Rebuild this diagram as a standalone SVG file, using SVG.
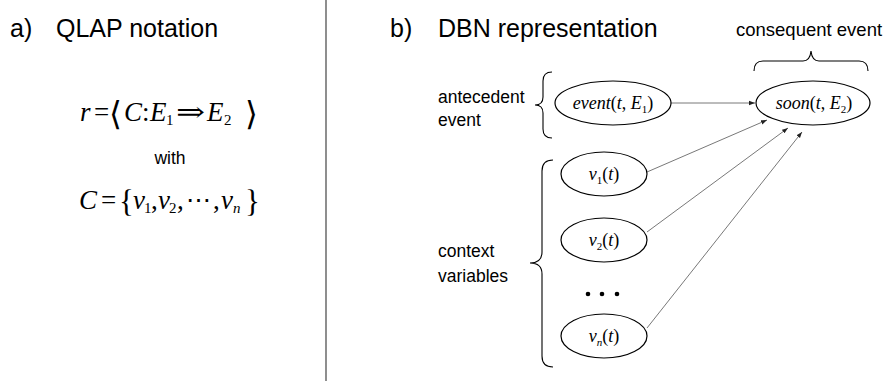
<svg xmlns="http://www.w3.org/2000/svg" width="888" height="381" viewBox="0 0 888 381">
  <style>
    .title { font-family: "Liberation Sans", Arial, sans-serif; font-size: 25px; fill: #000; }
    .label { font-family: "Liberation Sans", Arial, sans-serif; font-size: 17.5px; fill: #000; }
    .math { font-family: "Liberation Serif", "DejaVu Serif", serif; fill: #000; }
    .it { font-style: italic; }
    .delim { font-family: "DejaVu Serif", serif; font-weight: 200; }
    .node ellipse { fill: #fff; stroke: #000; stroke-width: 1.2; }
    .brace { fill: none; stroke: #000; stroke-width: 1.1; }
    .edge { stroke: #555; stroke-width: 0.8; fill: none; marker-end: url(#arrow); }
  </style>
  <defs>
    <marker id="arrow" markerUnits="userSpaceOnUse" markerWidth="7" markerHeight="6" refX="6" refY="3" orient="auto">
      <path d="M0,0.8 L6,3 L0,5.2 Z" fill="#222"/>
    </marker>
  </defs>

  <rect width="888" height="381" fill="#fff"/>

  <!-- panel divider -->
  <line x1="326" y1="0" x2="326" y2="381" stroke="#444" stroke-width="1.2"/>

  <!-- panel a: notation -->
  <g id="panel-a">
    <text class="title" x="10" y="37">a)</text>
    <text class="title" x="56" y="37">QLAP notation</text>

    <g class="math" style="font-size:27px">
      <text x="80" y="121" class="it">r</text>
      <text x="94" y="121">=</text>
      <text x="109" y="125" class="delim" style="font-size:33px">⟨</text>
      <text x="124" y="121" class="it">C</text>
      <text x="142" y="121">:</text>
      <text x="150" y="121" class="it">E</text>
      <text x="166" y="125" style="font-size:15px">1</text>
      <text x="176" y="121" class="delim" textLength="29" lengthAdjust="spacingAndGlyphs">⇒</text>
      <text x="207" y="121" class="it">E</text>
      <text x="224" y="125" style="font-size:15px">2</text>
      <text x="245" y="125" class="delim" style="font-size:33px">⟩</text>
    </g>

    <text class="label" x="170" y="164" text-anchor="middle">with</text>

    <g class="math" style="font-size:27px">
      <text x="79" y="209" class="it">C</text>
      <text x="101" y="209">=</text>
      <text x="119" y="212" style="font-size:31px">{</text>
      <text x="133" y="209" class="it">v</text>
      <text x="144" y="213" style="font-size:15px">1</text>
      <text x="151" y="209">,</text>
      <text x="158" y="209" class="it">v</text>
      <text x="169" y="213" style="font-size:15px">2</text>
      <text x="177" y="209">,</text>
      <text x="186" y="209" class="delim" textLength="25" lengthAdjust="spacingAndGlyphs">⋯</text>
      <text x="213" y="209">,</text>
      <text x="221" y="209" class="it">v</text>
      <text x="233" y="213" class="it" style="font-size:15px">n</text>
      <text x="245" y="212" style="font-size:31px">}</text>
    </g>
  </g>

  <!-- panel b: network -->
  <text class="title" x="390" y="37">b)</text>
  <text class="title" x="438" y="37">DBN representation</text>
  <text class="label" x="736" y="36" style="font-size:18.5px">consequent event</text>

  <text class="label" x="438" y="103">antecedent</text>
  <text class="label" x="438" y="126">event</text>
  <text class="label" x="438" y="257">context</text>
  <text class="label" x="438" y="282">variables</text>

  <!-- grouping braces -->
  <path class="brace" d="M754,71 Q754,61 763,61 L803,61 Q810,61 811,51 Q812,61 819,61 L859,61 Q868,61 868,71"/>
  <path class="brace" d="M552,72 Q543,72 543,81 L543,97 Q543,105 535,105 Q543,105 543,113 L543,129 Q543,138 552,138"/>
  <path class="brace" d="M553,160 Q542,160 542,171 L542,252 Q542,263 530,263 Q542,263 542,274 L542,356 Q542,367 553,367"/>

  <!-- connectors -->
  <g id="edges">
    <line class="edge" x1="671" y1="103" x2="755" y2="103"/>
    <line class="edge" x1="647" y1="172" x2="767" y2="120"/>
    <line class="edge" x1="647" y1="232" x2="788" y2="128"/>
    <line class="edge" x1="647" y1="328" x2="802" y2="132"/>
  </g>

  <g id="event" class="node">
    <ellipse cx="613" cy="103" rx="58" ry="22"/>
    <text class="math" x="613" y="109" text-anchor="middle" style="font-size:18px"><tspan class="it">event</tspan>(<tspan class="it">t</tspan>, <tspan class="it">E</tspan><tspan dy="4" style="font-size:11px">1</tspan><tspan dy="-4">)</tspan></text>
  </g>
  <g id="soon" class="node">
    <ellipse cx="813" cy="103" rx="57" ry="22"/>
    <text class="math" x="814" y="109" text-anchor="middle" style="font-size:18px"><tspan class="it">soon</tspan>(<tspan class="it">t</tspan>, <tspan class="it">E</tspan><tspan dy="4" style="font-size:11px">2</tspan><tspan dy="-4">)</tspan></text>
  </g>
  <g id="v1" class="node">
    <ellipse cx="604" cy="174" rx="43" ry="22"/>
    <text class="math" x="604" y="180" text-anchor="middle" style="font-size:18px"><tspan class="it">v</tspan><tspan dy="4" style="font-size:11px">1</tspan><tspan dy="-4">(</tspan><tspan class="it">t</tspan>)</text>
  </g>
  <g id="v2" class="node">
    <ellipse cx="604" cy="240" rx="43" ry="22"/>
    <text class="math" x="604" y="246" text-anchor="middle" style="font-size:18px"><tspan class="it">v</tspan><tspan dy="4" style="font-size:11px">2</tspan><tspan dy="-4">(</tspan><tspan class="it">t</tspan>)</text>
  </g>
  <g id="ellipsis">
    <circle cx="588" cy="294" r="2.3" fill="#000"/>
    <circle cx="602" cy="294" r="2.3" fill="#000"/>
    <circle cx="617" cy="294" r="2.3" fill="#000"/>
  </g>
  <g id="vn" class="node">
    <ellipse cx="604" cy="336" rx="43" ry="22"/>
    <text class="math" x="604" y="342" text-anchor="middle" style="font-size:18px"><tspan class="it">v</tspan><tspan dy="4" class="it" style="font-size:11px">n</tspan><tspan dy="-4">(</tspan><tspan class="it">t</tspan>)</text>
  </g>
</svg>
